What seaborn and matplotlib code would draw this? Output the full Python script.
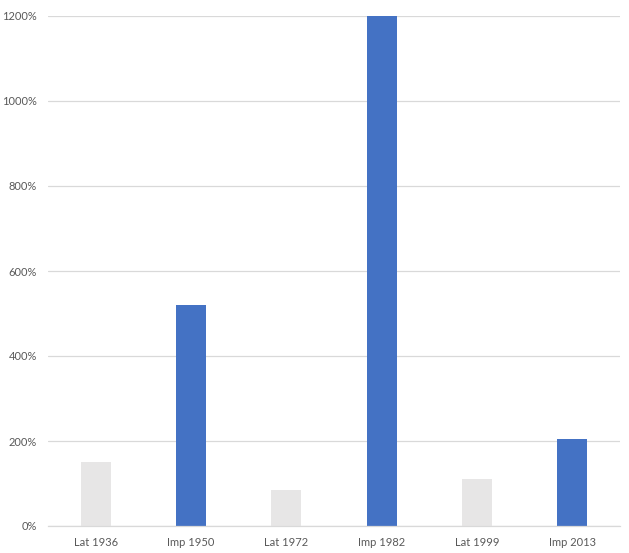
import pandas as pd
import numpy as np
import matplotlib.pyplot as plt
import seaborn as sns
from matplotlib.ticker import FuncFormatter

labels = ['Lat 1936', 'Imp 1950', 'Lat 1972', 'Imp 1982', 'Lat 1999', 'Imp 2013']
values = [151, 521, 85, 1200, 111, 205]
kind = ['Lat', 'Imp', 'Lat', 'Imp', 'Lat', 'Imp']

df = pd.DataFrame({'label': labels, 'value': values, 'kind': kind})

sns.set_style('white')
plt.rcParams['font.family'] = ['Lato', 'DejaVu Sans']

fig = plt.figure(figsize=(6.29, 5.53), dpi=100)
ax = fig.add_axes([48 / 629, 27 / 553, 572 / 629, 510 / 553])

sns.barplot(data=df, x='label', y='value', hue='kind',
            palette={'Lat': '#E7E6E6', 'Imp': '#4472C4'},
            saturation=1, linewidth=0,
            width=0.315, dodge=False, legend=False, ax=ax)

ax.set_ylim(0, 1200)
ax.set_xlim(-0.5, 5.5)
ax.set_yticks(np.arange(0, 1201, 200))
ax.yaxis.set_major_formatter(FuncFormatter(lambda v, p: f'{v:.0f}%'))
ax.grid(axis='y', color='#D9D9D9', linewidth=0.9)
ax.set_axisbelow(True)
for s in ['top', 'right', 'left']:
    ax.spines[s].set_visible(False)
ax.spines['bottom'].set_color('#D9D9D9')
ax.spines['bottom'].set_linewidth(0.9)
ax.tick_params(axis='both', length=0, labelsize=8, labelcolor='#595959')
ax.tick_params(axis='y', pad=8)
ax.tick_params(axis='x', pad=8)
ax.set_xlabel('')
ax.set_ylabel('')

fig.savefig('out.png', dpi=100)
